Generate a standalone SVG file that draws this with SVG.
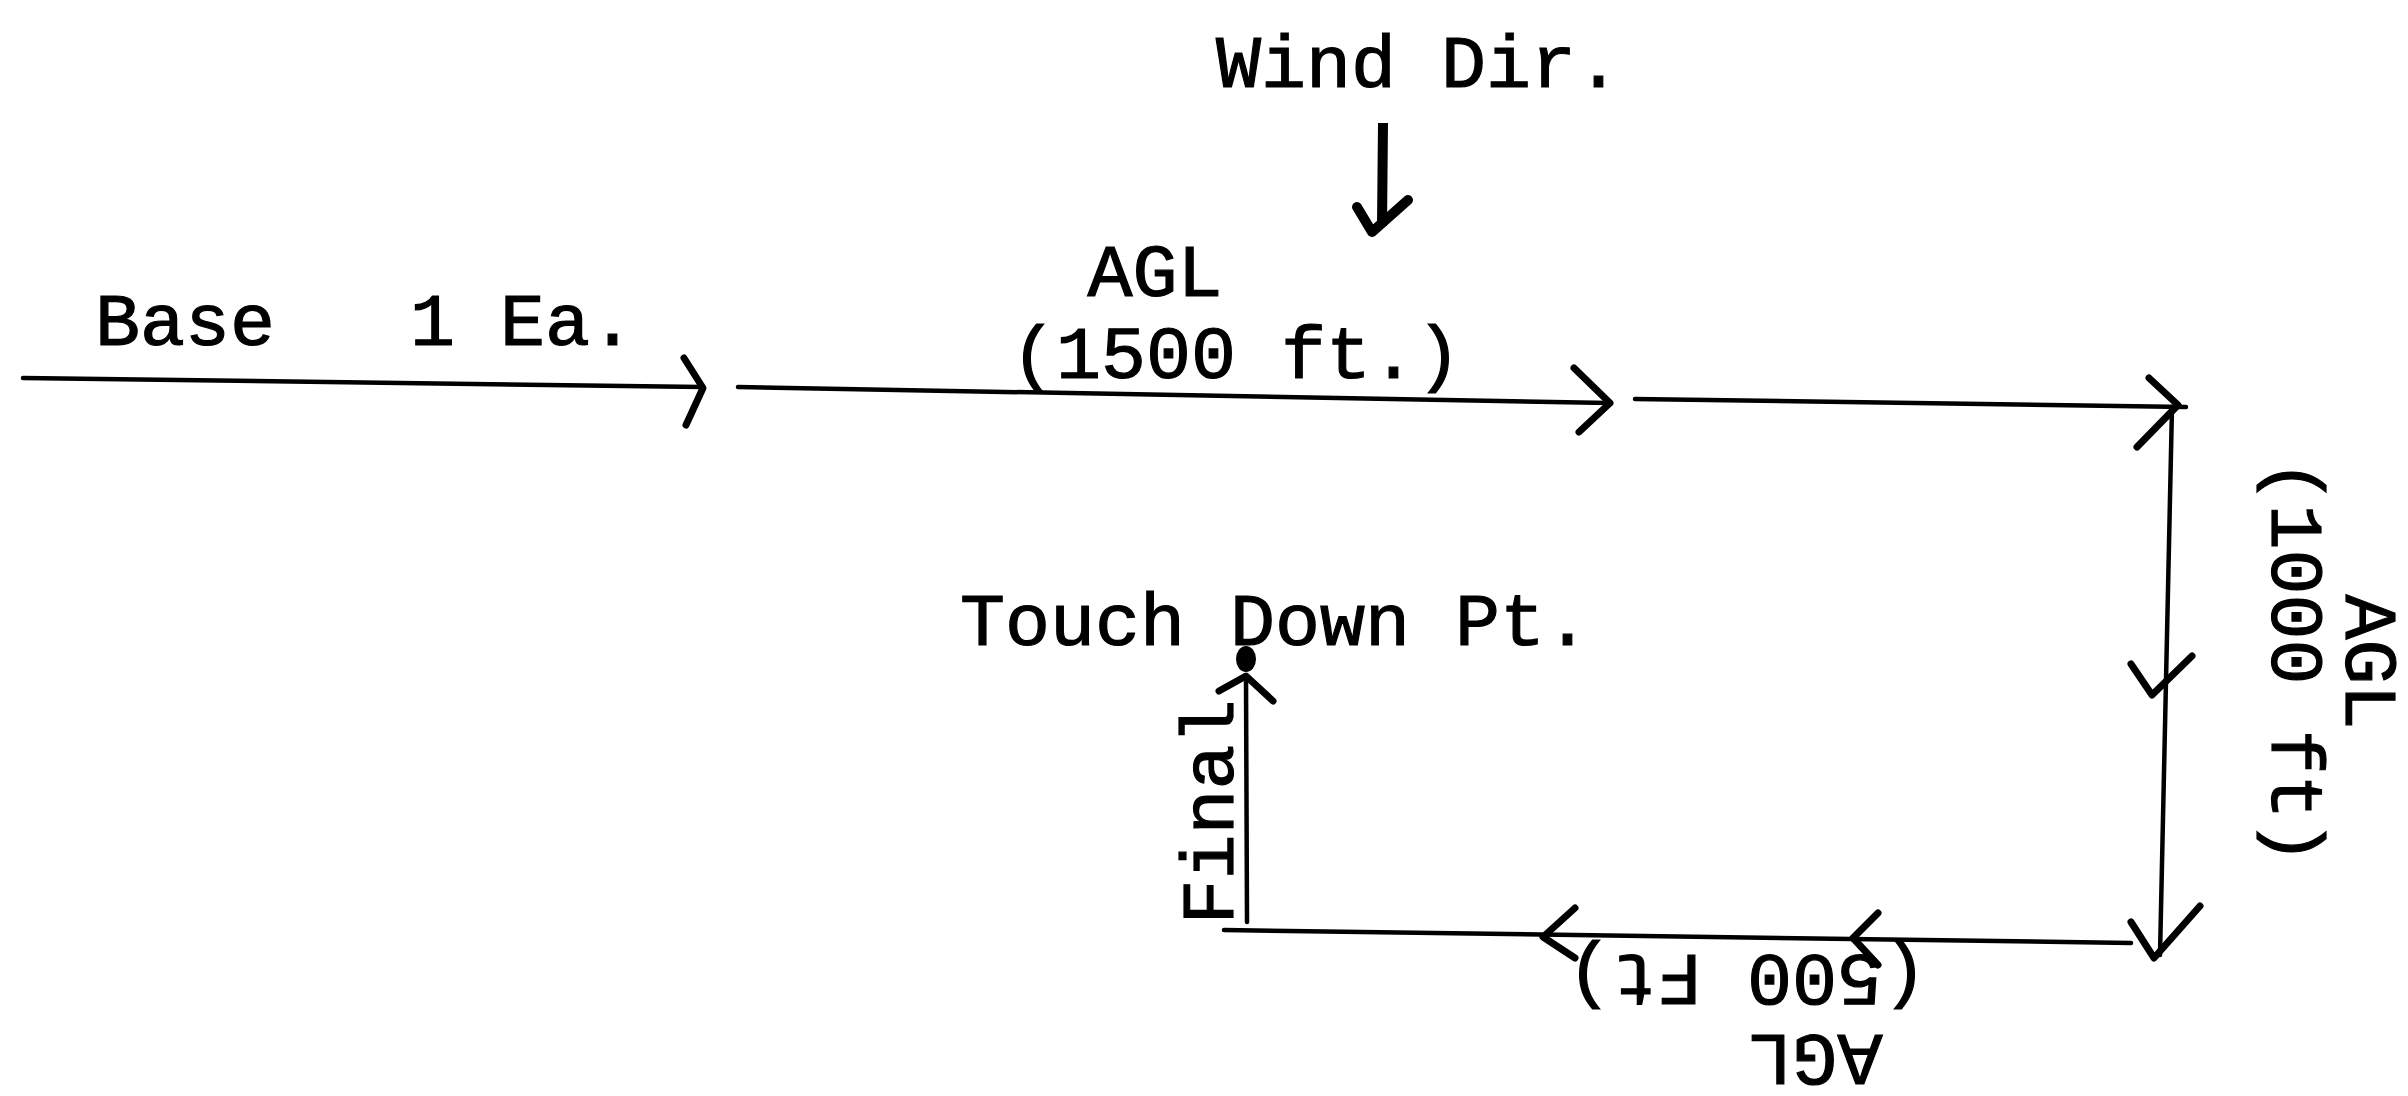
<svg xmlns="http://www.w3.org/2000/svg" width="2408" height="1096" viewBox="0 0 2408 1096">
<style>
.t{font-family:"Liberation Mono","Courier New",monospace;font-size:75px;fill:#000;stroke:#000;stroke-width:1.2}
.ln{fill:none;stroke:#000;stroke-width:4.5;stroke-linecap:round;stroke-linejoin:round}
.hd{fill:none;stroke:#000;stroke-width:7;stroke-linecap:round;stroke-linejoin:round}
</style>
<rect width="2408" height="1096" fill="#fff"/>
<g id="connectors">
<line class="ln" x1="23" y1="378" x2="702" y2="387"/>
<polyline class="hd" points="684,358 703,388 686,425"/>
<line class="ln" x1="738" y1="387" x2="1609" y2="403"/>
<polyline class="hd" points="1574,368 1610,403 1579,432"/>
<line class="ln" x1="1635" y1="399" x2="2186" y2="407"/>
<polyline class="hd" points="2149,378 2178,405 2137,447"/>
<line class="ln" x1="2172" y1="407" x2="2160" y2="955"/>
<polyline class="hd" points="2131,664 2152,695 2192,656"/>
<polyline class="hd" points="2131,922 2154,958 2200,906"/>
<line class="ln" x1="2131" y1="943" x2="1224" y2="930"/>
<polyline class="hd" points="1575,908 1543,937 1575,958"/>
<polyline class="hd" points="1878,913 1853,938 1878,965"/>
<line class="ln" x1="1247" y1="922" x2="1246" y2="678"/>
<polyline class="hd" points="1219,691 1246,676 1273,701"/>
<line x1="1383" y1="123" x2="1382" y2="226" stroke="#000" stroke-width="10"/>
<polyline points="1357,207 1372,232 1408,200" fill="none" stroke="#000" stroke-width="10" stroke-linejoin="round" stroke-linecap="round"/>
</g>
<g id="touchdown-point">
<ellipse cx="1246" cy="659" rx="10" ry="13" fill="#000"/>
<text class="t" x="960" y="645">Touch Down Pt.</text>
</g>
<g id="wind"><text class="t" x="1216" y="87">Wind Dir.</text></g>
<g id="base"><text class="t" x="95" y="345">Base</text><text class="t" x="410" y="345">1 Ea.</text></g>
<g id="downwind"><text class="t" x="1155" y="296" text-anchor="middle">AGL</text><text class="t" x="1236" y="378" text-anchor="middle">(1500 ft.)</text></g>
<g id="crosswind" transform="translate(2272,662) rotate(90)"><text class="t" x="0" y="0" text-anchor="middle">(1000 ft)</text><text class="t" x="0" y="-74" text-anchor="middle">AGL</text></g>
<g id="leg500" transform="translate(1747,955) rotate(180)"><text class="t" x="0" y="0" text-anchor="middle">(500 Ft)</text><text class="t" x="-68" y="-80" text-anchor="middle">AGL</text></g>
<g id="final" transform="translate(1233,812) rotate(-90)"><text class="t" x="0" y="0" text-anchor="middle">Final</text></g>
</svg>
